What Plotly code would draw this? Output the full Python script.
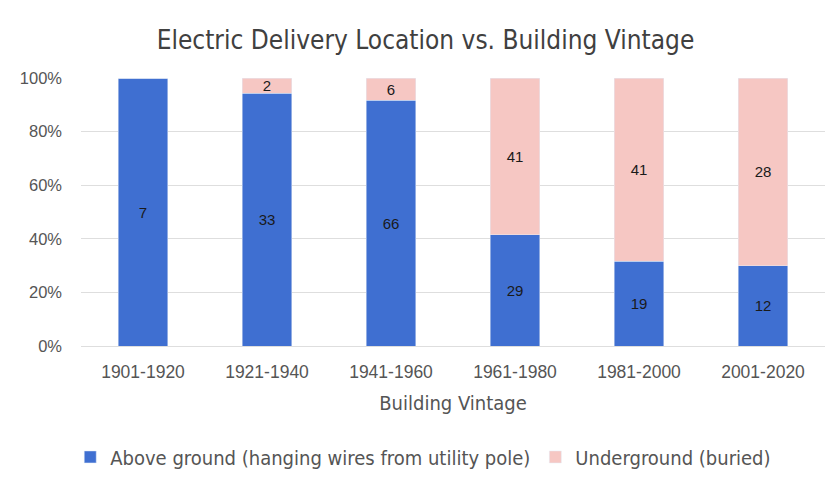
import plotly.graph_objects as go

categories = ["1901-1920", "1921-1940", "1941-1960", "1961-1980", "1981-2000", "2001-2020"]
above_ground = [7, 33, 66, 29, 19, 12]
underground = [0, 2, 6, 41, 41, 28]
y_ticks = [0, 20, 40, 60, 80, 100]
y_tick_labels = ["0%", "20%", "40%", "60%", "80%", "100%"]

FONT = "DejaVu Sans Condensed, Liberation Sans Narrow, Roboto, sans-serif"
TICKFONT = "Liberation Sans, Arial, sans-serif"

fig = go.Figure()
fig.add_trace(go.Bar(
    x=categories, y=above_ground, name="Above ground (hanging wires from utility pole)",
    marker=dict(color="#3f6fd1"), text=above_ground, textposition="inside", textangle=0,
    insidetextanchor="middle", constraintext="none",
    textfont=dict(color="#1a1a1a", size=15, family=TICKFONT),
))
fig.add_trace(go.Bar(
    x=categories, y=underground, name="Underground (buried)",
    marker=dict(color="#f6c7c3"),
    text=[v if v else "" for v in underground], textposition="inside", textangle=0,
    insidetextanchor="middle", constraintext="none",
    textfont=dict(color="#1a1a1a", size=15, family=TICKFONT),
))
fig.update_layout(
    barmode="stack", barnorm="percent", bargap=0.6,
    width=835, height=483,
    margin=dict(l=73, r=18, t=70, b=145),
    paper_bgcolor="white", plot_bgcolor="white",
    title=dict(text="Electric Delivery Location vs. Building Vintage", x=0.5, xanchor="center",
               y=0.934, yanchor="middle", font=dict(family=FONT, size=26, color="#404040")),
    font=dict(family=FONT, color="#555555"),
    legend=dict(orientation="h", x=0.46, xanchor="center", y=-0.414, yanchor="middle",
                font=dict(size=20, color="#555555"), traceorder="normal"),
)
fig.update_yaxes(range=[0, 100], tickvals=y_ticks, ticktext=y_tick_labels,
                 showgrid=True, gridcolor="#dedede", zeroline=False,
                 tickfont=dict(family=TICKFONT, size=16.5, color="#555555"), ticks="", ticklen=0,
                 ticklabelstandoff=18)
fig.update_xaxes(tickfont=dict(family=TICKFONT, size=17.5, color="#555555"),
                 title=dict(text="Building Vintage", font=dict(size=20, color="#555555"), standoff=14),
                 showline=True, linecolor="#dedede", ticklabelstandoff=10)
fig.write_html("out.html")
